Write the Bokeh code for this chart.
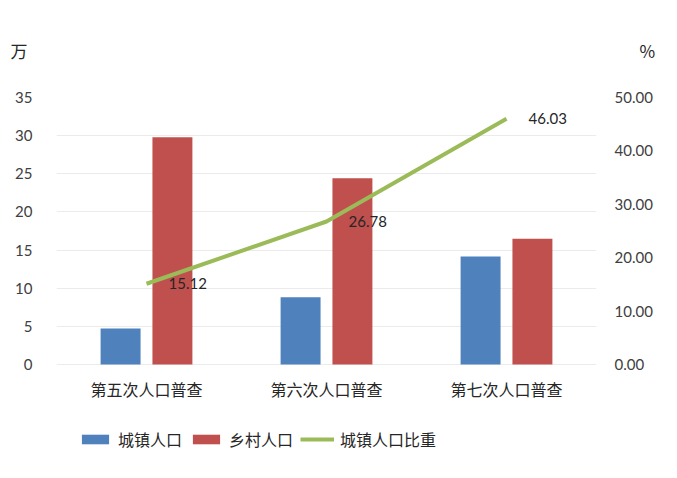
from bokeh.plotting import figure
from bokeh.models import (ColumnDataSource, FactorRange, Range1d, LinearAxis,
                          Legend, LegendItem, NumeralTickFormatter, FixedTicker)
from bokeh.transform import dodge
from bokeh.core.properties import value
from bokeh.embed import file_html
from bokeh.resources import INLINE

categories = ["第五次人口普查", "第六次人口普查", "第七次人口普查"]
urban = [4.72, 8.82, 14.16]
rural = [29.8, 24.4, 16.48]
urban_ratio = [15.12, 26.78, 46.03]
ratio_labels = ["15.12", "26.78", "46.03"]
left_ticks = [0, 5, 10, 15, 20, 25, 30, 35]
right_ticks = [0, 10, 20, 30, 40, 50]
left_unit = "万"
right_unit = "%"

CJK = "Noto Sans CJK SC"
NUM = "Lato"

W, H = 661, 462
TOP, ZERO, LEFT, RIGHT = 97, 364, 56, 596   # pixel geometry of the value area
span = ZERO - TOP
below = H - ZERO

src = ColumnDataSource(dict(cat=categories, urban=urban, rural=rural,
                            ratio=urban_ratio, lab=ratio_labels,
                            zero=[0] * len(categories)))

p = figure(x_range=FactorRange(*categories, range_padding=0),
           y_range=Range1d(-35 * below / span, 35), width=W, height=H,
           output_backend="svg", toolbar_location=None,
           min_border_left=LEFT, min_border_right=W - RIGHT, min_border_top=TOP,
           min_border_bottom=0)
p.extra_y_ranges = {"right": Range1d(-50 * below / span, 50)}

p.outline_line_color = None
p.background_fill_color = "white"
p.border_fill_color = "white"
p.xgrid.grid_line_color = None
p.ygrid.grid_line_color = "#ebebeb"
p.ygrid.ticker = FixedTicker(ticks=left_ticks)

# unit captions (万 at left, % at right) as the plot title
p.title.text = left_unit + "\u3000" * 36 + right_unit
p.title.align = "left"
p.title.offset = -46
p.title.standoff = 69
p.title.text_font = CJK
p.title.text_font_size = "17px"
p.title.text_font_style = "normal"
p.title.text_color = "#262626"

b1 = p.vbar(x=dodge("cat", -0.144, range=p.x_range), top="urban", width=0.222,
            source=src, fill_color="#4F81BD", line_color=None)
b2 = p.vbar(x=dodge("cat", 0.144, range=p.x_range), top="rural", width=0.222,
            source=src, fill_color="#C0504D", line_color=None)
ln = p.line(x="cat", y="ratio", source=src, y_range_name="right",
            line_color="#9BBB59", line_width=4)
p.text(x="cat", y="ratio", text="lab", source=src, y_range_name="right",
       x_offset=22, text_align="left", text_baseline="middle",
       text_font=value(NUM), text_font_size="15px", text_color="#262626")

# category labels under the zero line
p.text(x="cat", y="zero", text="cat", source=src, y_offset=24,
       text_align="center", text_baseline="middle",
       text_font=value(CJK), text_font_size="16px", text_color="#262626")

# axes
yl = p.yaxis[0]
yl.ticker = FixedTicker(ticks=left_ticks)
yl.axis_line_color = None
yl.major_tick_line_color = None
yl.minor_tick_line_color = None
yl.major_label_standoff = 18
yl.major_label_text_font = NUM
yl.major_label_text_font_size = "15px"
yl.major_label_text_color = "#404040"

yr = LinearAxis(y_range_name="right", ticker=FixedTicker(ticks=right_ticks),
                formatter=NumeralTickFormatter(format="0.00"))
yr.axis_line_color = None
yr.major_tick_line_color = None
yr.minor_tick_line_color = None
yr.major_label_standoff = 12
yr.major_label_text_font = NUM
yr.major_label_text_font_size = "15px"
yr.major_label_text_color = "#404040"
p.add_layout(yr, "right")

p.xaxis.visible = False

legend = Legend(items=[LegendItem(label="城镇人口", renderers=[b1]),
                       LegendItem(label="乡村人口", renderers=[b2]),
                       LegendItem(label="城镇人口比重", renderers=[ln])],
                orientation="horizontal", location=(22, 11),
                glyph_width=34, glyph_height=12, label_standoff=6, spacing=7,
                padding=0, margin=0, label_text_font=CJK, label_text_font_size="16px",
                label_text_color="#262626", border_line_color=None,
                background_fill_alpha=0)
p.add_layout(legend, "center")

open("out.html", "w").write(file_html(p, INLINE))
